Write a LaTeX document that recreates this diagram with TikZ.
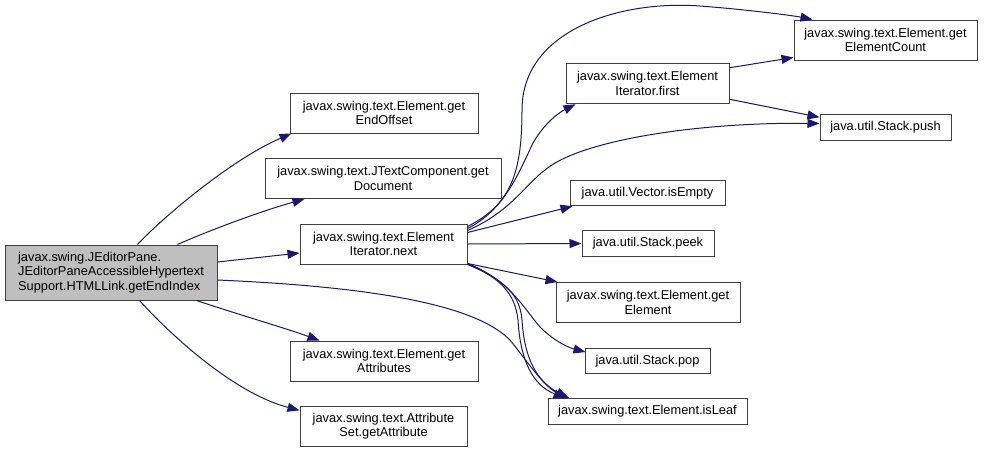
\documentclass[tikz,border=0pt]{standalone}
\usepackage{fontspec}
\setmainfont{Liberation Sans}
\usetikzlibrary{arrows.meta,calc}
\definecolor{edgecol}{HTML}{191970}
\definecolor{boxline}{HTML}{404040}
\definecolor{mainfill}{HTML}{BFBFBF}
\begin{document}
\begin{tikzpicture}[x=1pt,y=-1pt,
  box/.style={draw=boxline, line width=1pt, fill=white, rectangle, inner sep=0pt, align=center, font=\fontsize{12.8}{14.7}\selectfont},
  edge/.style={draw=edgecol, line width=1pt, -{Triangle[length=12pt,width=9pt]}}]
\fill[white] (0,0) rectangle (996,453);
\useasboundingbox (0,0) rectangle (996,453);

\node[box, fill=mainfill, align=left, minimum width=212pt, minimum height=55pt] (main) at (111,272.5) {javax.swing.JEditorPane.\\JEditorPaneAccessibleHypertext\\Support.HTMLLink.getEndIndex};
\node[box, minimum width=188pt, minimum height=40pt] (endoff) at (384,113) {javax.swing.text.Element.get\\EndOffset};
\node[box, minimum width=236pt, minimum height=40pt] (doc) at (383,178.5) {javax.swing.text.JTextComponent.get\\Document};
\node[box, minimum width=167pt, minimum height=40pt] (next) at (383.5,244) {javax.swing.text.Element\\Iterator.next};
\node[box, minimum width=188pt, minimum height=40pt] (getattrs) at (384,361) {javax.swing.text.Element.get\\Attributes};
\node[box, minimum width=167pt, minimum height=40.5pt] (getattr) at (383.5,426.3) {javax.swing.text.Attribute\\Set.getAttribute};

\node[box, minimum width=183pt, minimum height=40pt] (ecount) at (885.5,40) {javax.swing.text.Element.get\\ElementCount};
\node[box, minimum width=163pt, minimum height=40.5pt] (first) at (647.5,83.5) {javax.swing.text.Element\\Iterator.first};
\node[box, minimum width=131pt, minimum height=25.5pt] (push) at (885.5,127.5) {java.util.Stack.push};
\node[box, minimum width=155pt, minimum height=25.5pt] (isempty) at (647.5,193) {java.util.Vector.isEmpty};
\node[box, minimum width=132pt, minimum height=25.5pt] (peek) at (648,243.5) {java.util.Stack.peek};
\node[box, minimum width=184pt, minimum height=40pt] (getelem) at (648,302.5) {javax.swing.text.Element.get\\Element};
\node[box, minimum width=125pt, minimum height=25.5pt] (pop) at (647.5,361) {java.util.Stack.pop};
\node[box, minimum width=199pt, minimum height=25.5pt] (isleaf) at (647.5,411.5) {javax.swing.text.Element.isLeaf};

% edges from main
\draw[edge] ($(main.north west)+(133,0)$) .. controls (160,220) and (230,160) .. ($(endoff.south west)+(2,0)$);
\draw[edge] ($(main.north west)+(173,0)$) .. controls (215,228) and (265,210) .. ($(doc.south west)+(40,0)$);
\draw[edge] ($(main.east)+(0,-10.5)$) -- ($(next.west)+(0,9)$);
\draw[edge] ($(main.east)+(0,7.5)$) .. controls (400,288) and (480,310) .. (510,340) .. controls (530,365) and (545,388) .. ($(isleaf.north west)+(22,0)$);
\draw[edge] ($(main.south west)+(192,0)$) .. controls (240,315) and (285,328) .. ($(getattrs.north west)+(30,0)$);
\draw[edge] ($(main.south west)+(135,0)$) .. controls (180,345) and (240,395) .. ($(getattr.west)+(0,-16)$);

% edges from next
\draw[edge] ($(next.north east)+(0,3)$) .. controls (510,205) and (522,175) .. (522,110) .. controls (522,30) and (620,0) .. (700,6) .. controls (740,9) and (790,15) .. ($(ecount.north west)+(19,0)$);
\draw[edge] ($(next.north east)+(0,5)$) .. controls (505,210) and (520,170) .. (533,143) .. controls (545,122) and (560,112) .. ($(first.south west)+(10,0)$);
\draw[edge] ($(next.north east)+(0,7)$) .. controls (510,212) and (525,185) .. (545,170) .. controls (580,140) and (700,122) .. ($(push.west)+(0,-4)$);
\draw[edge] ($(next.north east)+(0,9)$) -- ($(isempty.south west)+(3,0)$);
\draw[edge] (next.east) -- (peek.west);
\draw[edge] ($(next.south east)+(0,-1)$) -- ($(getelem.north west)+(2,0)$);
\draw[edge] ($(next.south east)+(0,-1)$) .. controls (510,280) and (525,310) .. (540,327) .. controls (555,342) and (570,348) .. ($(pop.west)+(1,-9)$);
\draw[edge] (next.south east) .. controls (505,280) and (520,295) .. (522,320) .. controls (525,370) and (545,385) .. ($(isleaf.north west)+(20,0)$);
\draw[edge] ($(next.south east)+(0,-1)$) .. controls (500,278) and (515,293) .. (518,320) .. controls (521,372) and (540,388) .. ($(isleaf.north west)+(18,0)$);

% edges from first
\draw[edge] ($(first.north east)+(0,5)$) -- ($(ecount.south west)+(0,-3)$);
\draw[edge] ($(first.south east)+(0,-5)$) -- ($(push.north west)+(0,3)$);
\end{tikzpicture}
\end{document}
